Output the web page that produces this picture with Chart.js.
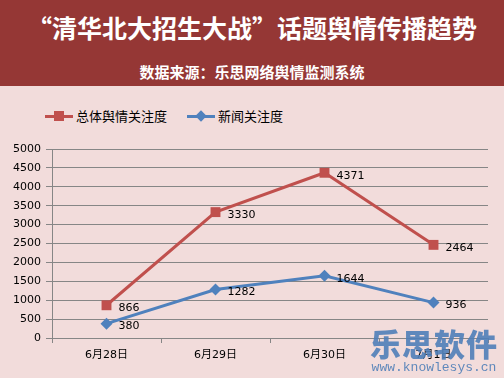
<!DOCTYPE html>
<html>
<head>
<meta charset="utf-8">
<script src="https://cdn.jsdelivr.net/npm/chart.js@4"></script>
<style>
  html, body { margin: 0; padding: 0; }
  body { width: 504px; height: 378px; background: #f2dcdb; position: relative; overflow: hidden;
         font-family: "DejaVu Sans", "Noto Sans CJK SC", sans-serif; }
  #head { position: absolute; left: 0; top: 0; width: 504px; height: 86px; background: #953735; color: #fff; }
  #title { position: absolute; left: 0; width: 504px; top: 10px; text-align: center;
           font: bold 25px "Noto Sans CJK SC", sans-serif; line-height: 34px; }
  #sub { position: absolute; left: 0; width: 504px; top: 61px; text-align: center;
         font: bold 15px "Noto Sans CJK SC", sans-serif; line-height: 22px; }
  #legend { position: absolute; top: 106px; left: 45px; font: 13px "Noto Sans CJK SC", sans-serif; color: #000; }
  .item { display: inline-flex; align-items: center; margin-right: 20px; }
  .mk { position: relative; width: 28px; height: 16px; margin-right: 3px; }
  .mk .ln { position: absolute; left: 0; right: 0; top: 7px; height: 3px; }
  .mk .pt { position: absolute; left: 9px; top: 3px; width: 10px; height: 10px; }
  #wm { position: absolute; left: 370px; top: 326px; color: #4f7fb8; opacity: 0.9; text-align: center; }
  #wm .big { font: 900 31px "Noto Sans CJK SC", sans-serif; line-height: 34px; letter-spacing: 1px; }
  #wm .url { font: 13px "Liberation Mono", monospace; line-height: 15px; }
  #wrap { position: absolute; left: 0; top: 86px; width: 504px; height: 292px; }
</style>
</head>
<body>
<div id="head">
  <div id="title">“清华北大招生大战”话题舆情传播趋势</div>
  <div id="sub">数据来源：乐思网络舆情监测系统</div>
</div>
<div id="legend"></div>
<div id="wrap"><canvas id="trendChart" width="504" height="292"></canvas></div>
<div id="wm"><div class="big">乐思软件</div><div class="url">www.knowlesys.cn</div></div>
<script>
const days = ["6月28日", "6月29日", "6月30日", "7月1日"];
const overall = [866, 3330, 4371, 2464];
const news = [380, 1282, 1644, 936];
const seriesNames = ["总体舆情关注度", "新闻关注度"];
const yTicks = [0, 500, 1000, 1500, 2000, 2500, 3000, 3500, 4000, 4500, 5000];

const red = '#c0504d';
const blue = '#4f81bd';

// legend (html)
const legend = document.getElementById('legend');
[[seriesNames[0], red, false], [seriesNames[1], blue, true]].forEach(function (s) {
    const item = document.createElement('span');
    item.className = 'item';
    const rot = s[2] ? 'transform: rotate(45deg) scale(0.8);' : '';
    item.innerHTML = '<span class="mk"><span class="ln" style="background:' + s[1] + '"></span>' +
        '<span class="pt" style="background:' + s[1] + ';' + rot + '"></span></span>' + s[0];
    legend.appendChild(item);
});

// value labels right of each point
const valueLabels = {
    id: 'valueLabels',
    afterDatasetsDraw(chart) {
        const ctx = chart.ctx;
        ctx.save();
        ctx.font = '11px "DejaVu Sans"';
        ctx.fillStyle = '#000';
        ctx.textBaseline = 'middle';
        ctx.textAlign = 'left';
        chart.data.datasets.forEach(function (ds, i) {
            chart.getDatasetMeta(i).data.forEach(function (pt, j) {
                ctx.fillText(ds.data[j], pt.x + 12, pt.y + 3);
            });
        });
        ctx.restore();
    }
};

const ctx = document.getElementById('trendChart').getContext('2d');
const trendChart = new Chart(ctx, {
    type: 'line',
    data: {
        labels: days,
        datasets: [
            {
                label: seriesNames[0],
                data: overall,
                borderColor: red,
                backgroundColor: red,
                borderWidth: 3,
                pointStyle: 'rect',
                pointRadius: 7,
                pointBorderWidth: 0,
                tension: 0
            },
            {
                label: seriesNames[1],
                data: news,
                borderColor: blue,
                backgroundColor: blue,
                borderWidth: 3,
                pointStyle: 'rectRot',
                pointRadius: 6,
                pointBorderWidth: 0,
                tension: 0
            }
        ]
    },
    options: {
        responsive: false,
        animation: false,
        layout: { padding: { top: 63, right: 16, left: 0, bottom: 0 } },
        scales: {
            x: {
                offset: true,
                grid: { display: true, drawOnChartArea: false, offset: true, tickLength: 5, color: '#868686' },
                border: { color: '#868686' },
                ticks: { color: '#000', font: { size: 11, family: '"DejaVu Sans", "Noto Sans CJK SC"' }, padding: 6, maxRotation: 0 },
                afterFit(scale) { scale.height = 40; }
            },
            y: {
                min: 0,
                max: 5000,
                afterBuildTicks(scale) { scale.ticks = yTicks.map(v => ({ value: v })); },
                grid: { color: '#868686', tickLength: 6 },
                border: { color: '#868686' },
                ticks: { color: '#000', font: { size: 11, family: '"DejaVu Sans"' }, padding: 5,
                         callback: v => String(v) },
                afterFit(scale) { scale.width = 52; }
            }
        },
        plugins: {
            legend: { display: false },
            tooltip: { enabled: false }
        }
    },
    plugins: [valueLabels]
});
</script>
</body>
</html>
